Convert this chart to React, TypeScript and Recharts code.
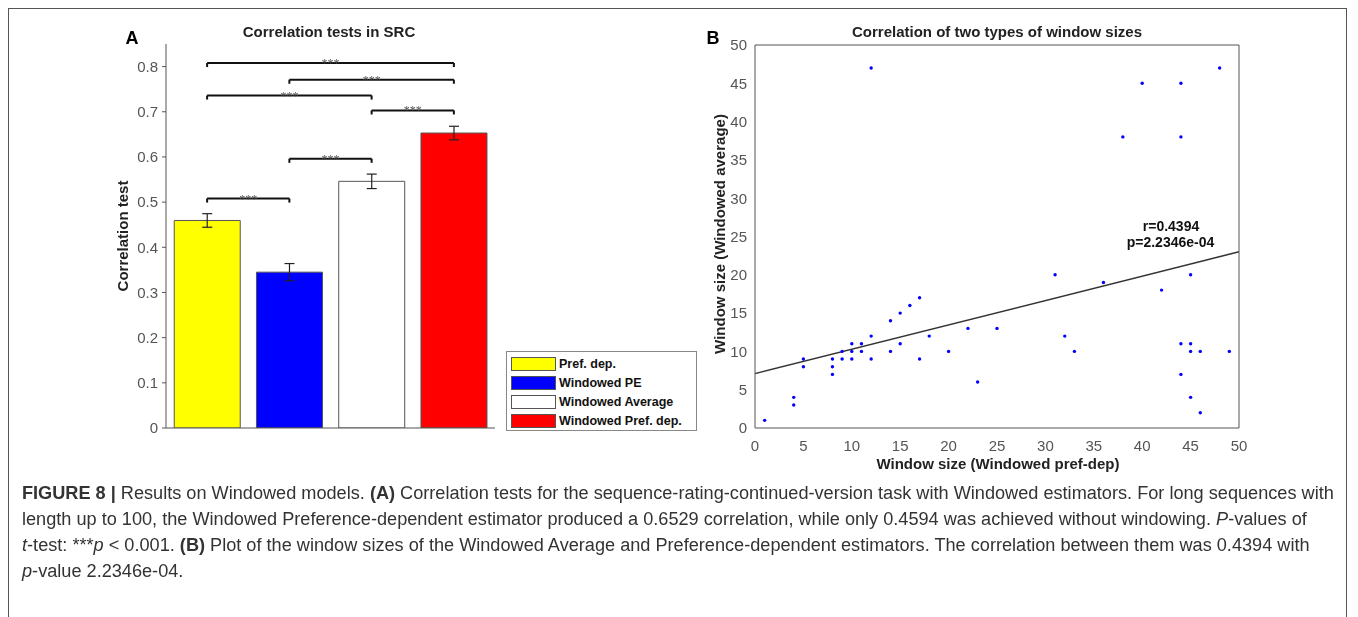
import React from 'react';
import {
  BarChart,
  Bar,
  Cell,
  ErrorBar,
  XAxis,
  YAxis,
  ReferenceLine,
  Legend,
  ScatterChart,
  Scatter,
} from 'recharts';

// Panel A: correlation tests
const categories = ['Pref. dep.', 'Windowed PE', 'Windowed Average', 'Windowed Pref. dep.'];
const correlations = [0.4594, 0.345, 0.546, 0.6529];
const errors = [0.015, 0.019, 0.016, 0.015];
const barColors = ['#ffff00', '#0000ff', '#ffffff', '#ff0000'];
const corrTicks = [0, 0.1, 0.2, 0.3, 0.4, 0.5, 0.6, 0.7, 0.8];

// significance brackets (index into categories)
const bracketFrom = [0, 1, 0, 2, 1, 0];
const bracketTo = [3, 3, 2, 3, 2, 1];
const bracketLevel = [0.808, 0.771, 0.736, 0.703, 0.596, 0.508];

// Panel B: window sizes
const windowPrefDep = [
  1, 4, 4, 5, 5, 8, 8, 8, 9, 9, 10, 10, 10, 11, 11, 12, 12, 12, 14, 14, 15, 15, 16, 17, 17,
  18, 20, 22, 23, 25, 31, 32, 33, 36, 38, 40, 42, 44, 44, 44, 44, 45, 45, 45, 45, 46, 46, 48, 49,
];
const windowAverage = [
  1, 4, 3, 9, 8, 9, 8, 7, 9, 10, 11, 10, 9, 11, 10, 12, 9, 47, 14, 10, 15, 11, 16, 17, 9,
  12, 10, 13, 6, 13, 20, 12, 10, 19, 38, 45, 18, 45, 38, 11, 7, 20, 11, 10, 4, 10, 2, 47, 10,
];
const fitX = [0, 50];
const fitY = [7.1, 23.0];
const windowTicks = [0, 5, 10, 15, 20, 25, 30, 35, 40, 45, 50];

const FONT = '"Liberation Sans", Arial, sans-serif';
const AXIS = '#555';

const barData = categories.map((name, i) => ({ name, value: correlations[i], err: errors[i] }));
const scatterData = windowPrefDep.map((x, i) => ({ x, y: windowAverage[i] }));

function Txt({ x, y, size = 15, bold = true, rotate = 0, color = '#222', children }: any) {
  return (
    <div
      style={{
        position: 'absolute',
        left: x,
        top: y,
        transform: `translate(-50%, -50%) rotate(${rotate}deg)`,
        fontFamily: FONT,
        fontSize: size,
        fontWeight: bold ? 'bold' : 'normal',
        color,
        whiteSpace: 'nowrap',
        lineHeight: 1,
      }}
    >
      {children}
    </div>
  );
}

const renderLegend = () => (
  <div
    style={{
      border: '1px solid #888',
      background: '#fff',
      padding: '2px 4px 0 4px',
      width: 191,
      boxSizing: 'border-box',
      fontFamily: FONT,
    }}
  >
    {categories.map((c, i) => (
      <div key={c} style={{ display: 'flex', alignItems: 'center', height: 19 }}>
        <span
          style={{
            display: 'inline-block',
            width: 43,
            height: 12,
            background: barColors[i],
            border: '1px solid #555',
            marginRight: 3,
          }}
        />
        <span style={{ fontSize: 12.5, fontWeight: 'bold', color: '#111' }}>{c}</span>
      </div>
    ))}
  </div>
);

const dot = (props: any) => <circle cx={props.cx} cy={props.cy} r={1.7} fill="#0000ff" />;

const captionLine = { position: 'absolute' as const, left: 14, height: 26, lineHeight: '26px', fontFamily: FONT, fontSize: 18.15, color: '#333', whiteSpace: 'nowrap' as const };

export default function App() {
  const bracketLines = bracketFrom.flatMap((f, i) => {
    const a = categories[f];
    const b = categories[bracketTo[i]];
    const y = bracketLevel[i];
    return [
      <ReferenceLine
        key={`h${i}`}
        segment={[{ x: a, y }, { x: b, y }]}
        stroke="#111"
        strokeWidth={2}
        label={{ value: '***', position: 'top', offset: -4, fontSize: 12, fill: '#555' }}
      />,
      <ReferenceLine key={`l${i}`} segment={[{ x: a, y }, { x: a, y: y - 0.009 }]} stroke="#111" strokeWidth={2} />,
      <ReferenceLine key={`r${i}`} segment={[{ x: b, y }, { x: b, y: y - 0.009 }]} stroke="#111" strokeWidth={2} />,
    ];
  });

  return (
    <div style={{ position: 'relative', width: 1342, height: 600 }}>
      <div
        style={{
          position: 'fixed',
          left: 8,
          top: 8,
          width: 1337,
          height: 700,
          border: '1px solid #555',
          pointerEvents: 'none',
        }}
      />

      {/* Panel A */}
      <div style={{ position: 'absolute', left: 0, top: 0 }}>
        <BarChart
          width={700}
          height={460}
          data={barData}
          margin={{ top: 36, right: 213, bottom: 30, left: 118 }}
          barCategoryGap="10%"
        >
          <XAxis dataKey="name" tick={false} tickLine={false} height={10} axisLine={{ stroke: AXIS }} />
          <YAxis
            domain={[0, 0.85]}
            ticks={corrTicks}
            interval={0}
            allowDataOverflow
            width={40}
            tickSize={4}
            tickMargin={4}
            tick={{ fill: AXIS, fontSize: 15, fontFamily: FONT }}
            axisLine={{ stroke: AXIS }}
            tickLine={{ stroke: AXIS }}
          />
          <Bar dataKey="value" isAnimationActive={false} stroke="#555" strokeWidth={1}>
            {barData.map((d, i) => (
              <Cell key={d.name} fill={barColors[i]} stroke="#555" />
            ))}
            <ErrorBar dataKey="err" width={5} stroke="#222" strokeWidth={1.2} />
          </Bar>
          {bracketLines}
          <Legend
            content={renderLegend}
            layout="horizontal"
            verticalAlign="middle"
            align="center"
            wrapperStyle={{ left: 498, top: 343, width: 191 }}
          />
        </BarChart>
      </div>

      {/* Panel B */}
      <div style={{ position: 'absolute', left: 690, top: 0 }}>
        <ScatterChart width={600} height={460} margin={{ top: 37, right: 59, bottom: 20, left: 37 }}>
          <XAxis
            xAxisId="b"
            type="number"
            dataKey="x"
            domain={[0, 50]}
            ticks={windowTicks}
            interval={0}
            allowDataOverflow
            height={20}
            tickLine={false}
            tickSize={0}
            tickMargin={12}
            tick={{ fill: AXIS, fontSize: 15, fontFamily: FONT }}
            axisLine={{ stroke: AXIS }}
          />
          <XAxis
            xAxisId="bm"
            type="number"
            domain={[0, 50]}
            ticks={windowTicks}
            interval={0}
            allowDataOverflow
            mirror
            tick={false}
            tickSize={4}
            tickLine={{ stroke: AXIS }}
            axisLine={false}
          />
          <XAxis
            xAxisId="t"
            type="number"
            orientation="top"
            domain={[0, 50]}
            ticks={windowTicks}
            interval={0}
            allowDataOverflow
            mirror
            tick={false}
            tickSize={4}
            tickLine={{ stroke: AXIS }}
            axisLine={{ stroke: AXIS }}
          />
          <YAxis
            yAxisId="l"
            type="number"
            dataKey="y"
            domain={[0, 50]}
            ticks={windowTicks}
            interval={0}
            allowDataOverflow
            width={20}
            tickLine={false}
            tickSize={0}
            tickMargin={8}
            tick={{ fill: AXIS, fontSize: 15, fontFamily: FONT }}
            axisLine={{ stroke: AXIS }}
          />
          <YAxis
            yAxisId="lm"
            type="number"
            domain={[0, 50]}
            ticks={windowTicks}
            interval={0}
            allowDataOverflow
            mirror
            tick={false}
            tickSize={4}
            tickLine={{ stroke: AXIS }}
            axisLine={false}
          />
          <YAxis
            yAxisId="r"
            type="number"
            orientation="right"
            domain={[0, 50]}
            ticks={windowTicks}
            interval={0}
            allowDataOverflow
            mirror
            tick={false}
            tickSize={4}
            tickLine={{ stroke: AXIS }}
            axisLine={{ stroke: AXIS }}
          />
          <ReferenceLine
            xAxisId="b"
            yAxisId="l"
            segment={[{ x: fitX[0], y: fitY[0] }, { x: fitX[1], y: fitY[1] }]}
            stroke="#333"
            strokeWidth={1.5}
          />
          <Scatter xAxisId="b" yAxisId="l" data={scatterData} fill="#0000ff" shape={dot} isAnimationActive={false} />
        </ScatterChart>
      </div>

      {/* texts */}
      <Txt x={124} y={30} size={18} color="#000">A</Txt>
      <Txt x={321} y={23}>Correlation tests in SRC</Txt>
      <Txt x={114} y={228} rotate={-90}>Correlation test</Txt>
      <Txt x={705} y={30} size={18} color="#000">B</Txt>
      <Txt x={989} y={23}>Correlation of two types of window sizes</Txt>
      <Txt x={990} y={455}>Window size (Windowed pref-dep)</Txt>
      <Txt x={711} y={226} rotate={-90}>Window size (Windowed average)</Txt>
      <Txt x={1163} y={217.5} size={14} color="#111">r=0.4394</Txt>
      <Txt x={1162.5} y={233.5} size={14} color="#111">p=2.2346e-04</Txt>

      {/* caption */}
      <div style={{ ...captionLine, top: 472 }}>
        <b>FIGURE 8 |</b> Results on Windowed models. <b>(A)</b> Correlation tests for the sequence-rating-continued-version task with Windowed estimators. For long sequences with
      </div>
      <div style={{ ...captionLine, top: 498 }}>
        length up to 100, the Windowed Preference-dependent estimator produced a 0.6529 correlation, while only 0.4594 was achieved without windowing. <i>P</i>-values of
      </div>
      <div style={{ ...captionLine, top: 524 }}>
        <i>t</i>-test: ***<i>p</i> &lt; 0.001. <b>(B)</b> Plot of the window sizes of the Windowed Average and Preference-dependent estimators. The correlation between them was 0.4394 with
      </div>
      <div style={{ ...captionLine, top: 550 }}>
        <i>p</i>-value 2.2346e-04.
      </div>
    </div>
  );
}
